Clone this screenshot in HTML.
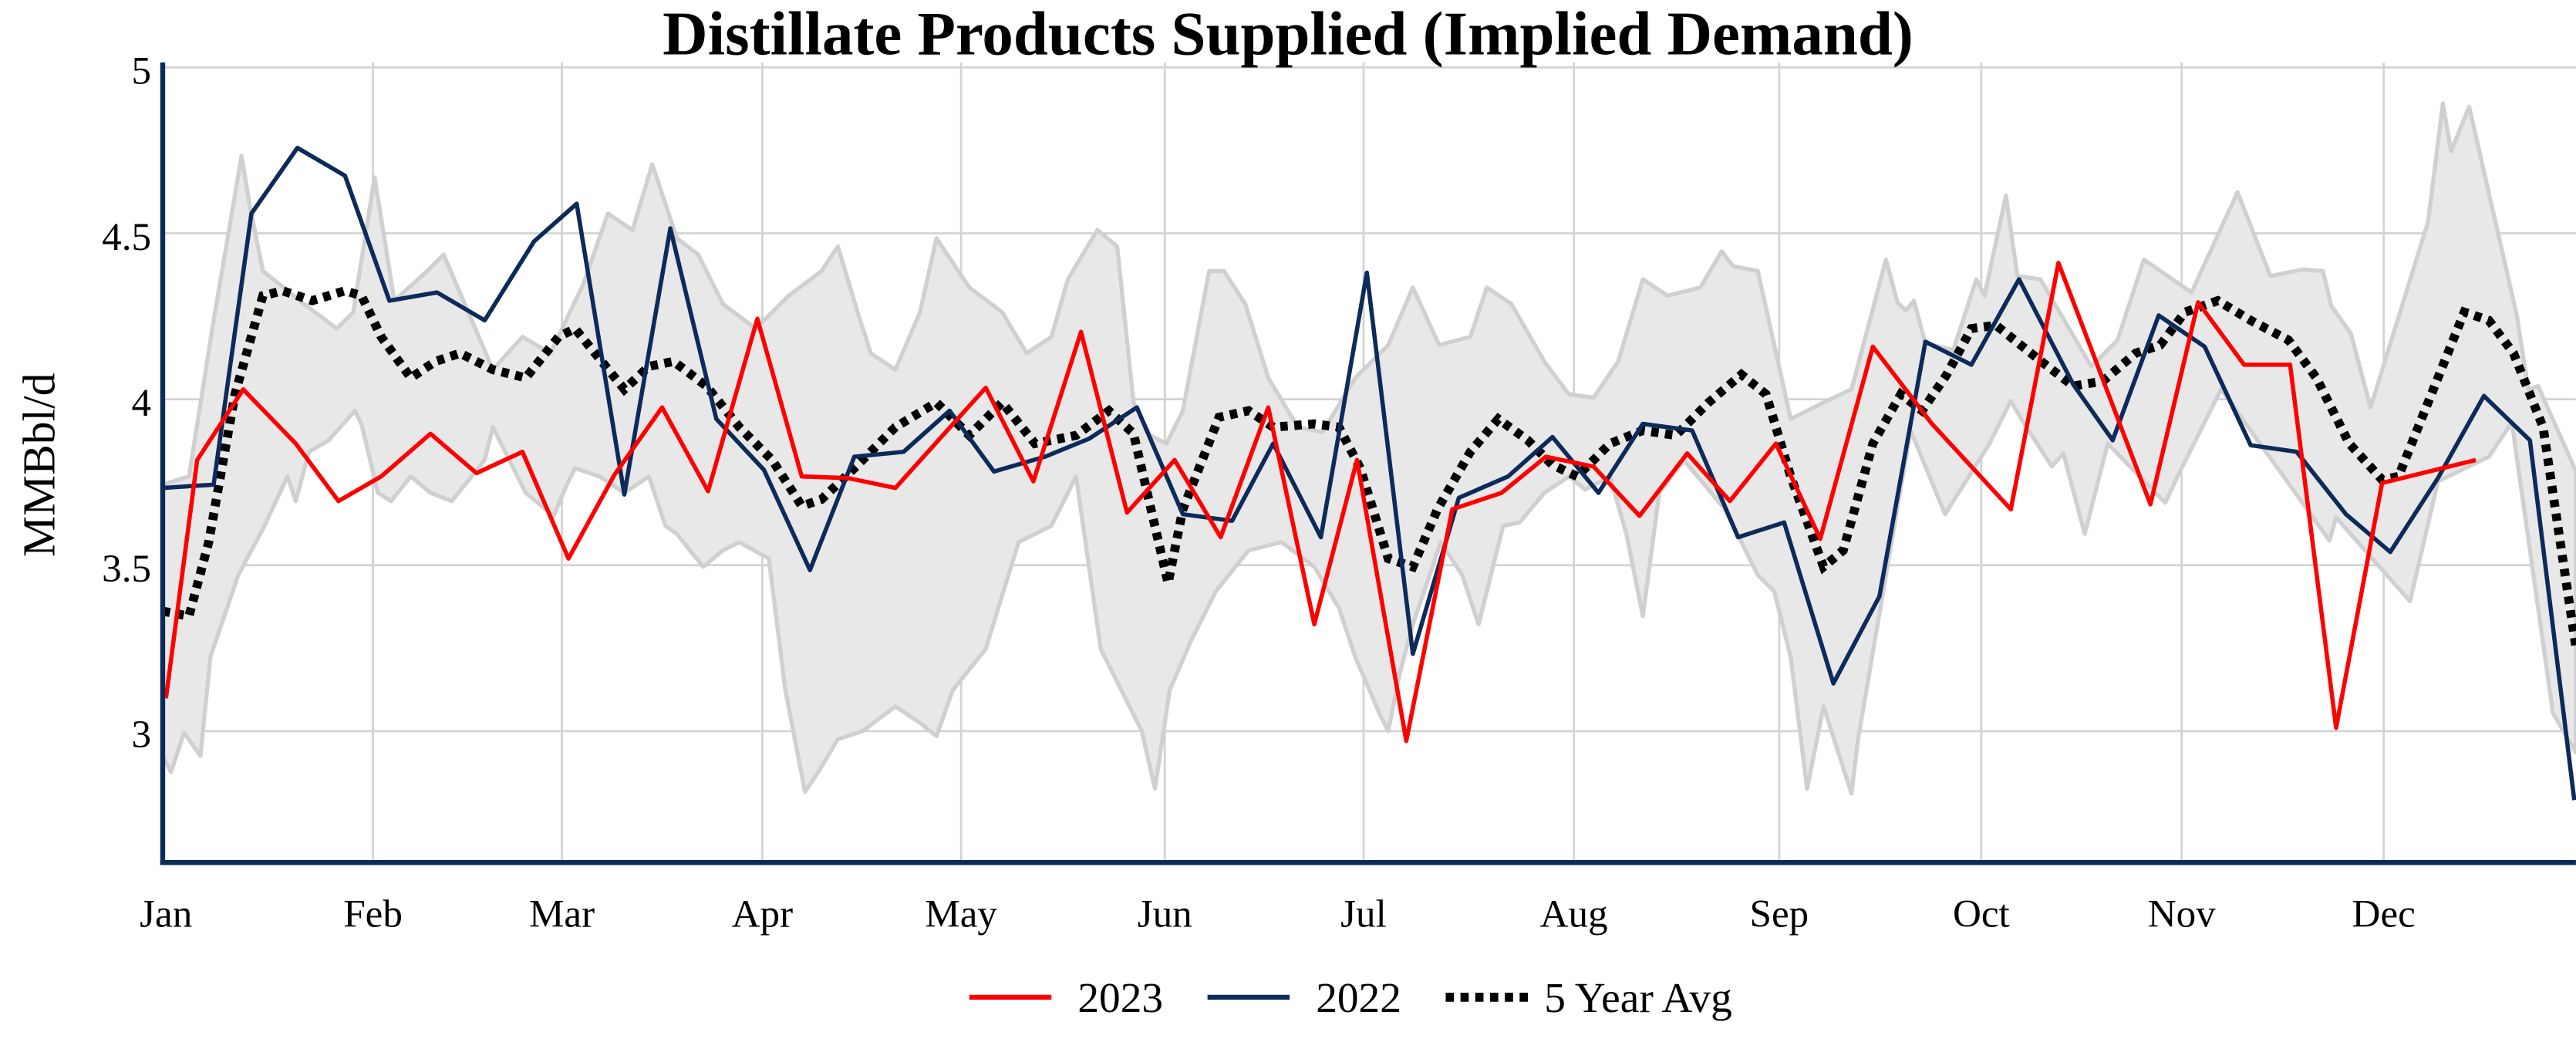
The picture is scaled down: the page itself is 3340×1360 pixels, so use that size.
<!DOCTYPE html>
<html><head><meta charset="utf-8"><style>html,body{margin:0;padding:0;background:#fff}svg{display:block}</style></head>
<body>
<svg width="3340" height="1360" viewBox="0 0 1568 638.5" xmlns="http://www.w3.org/2000/svg" font-family="'Liberation Serif', serif">
<rect width="1568" height="638.5" fill="#fff"/>
<g stroke="#d3d3d3" stroke-width="1.3">
<line x1="99" y1="41" x2="1568" y2="41"/><line x1="99" y1="142" x2="1568" y2="142"/><line x1="99" y1="243" x2="1568" y2="243"/><line x1="99" y1="344" x2="1568" y2="344"/><line x1="99" y1="445" x2="1568" y2="445"/>
<line x1="227" y1="38" x2="227" y2="525"/><line x1="342" y1="38" x2="342" y2="525"/><line x1="464" y1="38" x2="464" y2="525"/><line x1="585" y1="38" x2="585" y2="525"/><line x1="709" y1="38" x2="709" y2="525"/><line x1="830" y1="38" x2="830" y2="525"/><line x1="958" y1="38" x2="958" y2="525"/><line x1="1083" y1="38" x2="1083" y2="525"/><line x1="1206" y1="38" x2="1206" y2="525"/><line x1="1328" y1="38" x2="1328" y2="525"/><line x1="1451" y1="38" x2="1451" y2="525"/>
</g>
<polygon fill="#e8e8e8" stroke="#d0d0d0" stroke-width="2.5" stroke-linejoin="round" points="99,295 115,290 130,195 147,95 152,125 160,165 185,185 205,200 215,190 228,108 240,183 260,165 270,155 285,190 300,225 318,205 335,215 355,173 370,130 385,140 397,100 412,145 425,155 440,185 460,200 480,180 500,165 510,150 522,190 530,215 545,225 560,190 570,145 590,175 610,190 625,215 640,205 650,170 668,140 680,150 690,245 700,265 710,270 720,250 736,165 745,165 758,185 772,230 790,260 805,263 825,230 845,210 860,175 876,210 895,205 905,175 920,185 940,220 955,240 970,242 985,220 1000,170 1015,180 1035,175 1048,153 1055,162 1070,165 1080,210 1090,255 1110,245 1127,237 1148,158 1155,184 1160,189 1165,183 1172,209 1189,213 1203,170 1208,180 1221,119 1228,168 1242,170 1256,194 1273,223 1289,207 1305,158 1334,178 1362,117 1382,168 1402,164 1414,165 1419,186 1431,203 1443,248 1478,135 1487,63 1492,92 1503,65 1532,192 1539,237 1545,235 1568,287 1568,458 1554,434 1529,257 1515,278 1484,293 1467,366 1422,315 1418,329 1352,237 1325,291 1318,306 1283,270 1269,325 1256,276 1249,284 1231,256 1224,244 1211,270 1184,313 1163,262 1131,450 1127,483 1110,430 1100,480 1090,400 1080,360 1070,350 1050,310 1025,280 1010,300 1000,375 990,325 980,290 965,298 955,290 940,300 925,318 915,320 900,380 890,350 877,330 860,380 852,410 845,445 840,435 825,400 815,370 800,345 780,330 760,335 740,360 725,390 712,420 703,480 695,445 670,395 655,290 640,320 620,330 600,395 580,420 570,448 560,440 545,430 525,445 510,450 498,470 490,482 478,420 468,340 450,330 440,335 428,345 412,325 405,320 395,290 380,300 365,290 350,285 345,295 337,314 320,300 300,260 295,280 275,305 262,300 250,290 238,305 230,300 220,258 216,250 200,268 188,275 180,305 175,290 160,322 153,335 145,350 128,400 122,460 112,446 104,470 99,460"/>
<polyline fill="none" stroke="#000" stroke-width="5.5" stroke-dasharray="4.5,4" points="99,372 115,375 127,330 143,240 160,180 172,177 190,183 210,177 220,180 232,205 250,230 265,220 280,215 300,225 320,230 340,205 350,200 380,237 395,223 410,220 430,235 450,260 470,280 488,308 500,304 520,285 545,260 570,245 590,265 610,245 630,270 655,265 675,250 690,264 711,355 720,310 742,254 760,250 775,260 800,258 815,260 828,285 845,340 860,345 875,310 895,275 912,255 930,268 945,283 960,290 980,270 1000,262 1020,265 1040,245 1060,228 1075,240 1090,290 1110,345 1122,335 1140,270 1157,240 1170,250 1185,228 1200,200 1215,198 1240,218 1262,235 1280,232 1300,215 1315,210 1330,190 1350,183 1370,195 1393,207 1410,230 1430,270 1450,292 1460,290 1480,240 1500,190 1515,195 1530,215 1548,260 1568,394"/>
<polyline fill="none" stroke="#0c2a5a" stroke-width="2.6" stroke-linejoin="round" points="99,297 130,295 153,130 181,90 210,107 237,183 266,178 295,195 325,147 351,124 380,301 408,139 436,255 465,286 493,347 520,278 550,275 578,250 605,287 636,278 663,267 692,248 720,313 750,317 775,270 804,327 832,166 860,398 888,303 918,290 945,266 973,300 1000,258 1030,262 1058,327 1086,318 1116,416 1144,363 1172,208 1200,222 1229,170 1262,234 1286,268 1314,192 1342,211 1370,271 1398,275 1428,313 1455,336 1484,291 1512,241 1540,268 1567,487"/>
<polyline fill="none" stroke="#ff0000" stroke-width="2.6" stroke-linejoin="round" points="101,425 120,280 148,237 180,270 206,305 232,290 262,264 290,288 318,275 346,340 374,289 403,248 431,299 461,194 488,290 516,291 545,297 600,236 629,293 658,202 686,312 715,280 743,327 772,248 800,380 826,280 856,451 884,310 914,300 941,278 970,284 998,314 1027,276 1053,305 1081,270 1108,328 1140,211 1176,258 1224,310 1253,160 1309,307 1338,184 1366,222 1394,222 1422,443 1450,294 1507,280"/>
<line x1="99" y1="38" x2="99" y2="526.5" stroke="#0c2a5a" stroke-width="3"/>
<line x1="97.5" y1="525" x2="1568" y2="525" stroke="#0c2a5a" stroke-width="3"/>
<g font-size="24" fill="#000" text-anchor="end">
<text x="92" y="51">5</text><text x="92" y="152">4.5</text><text x="92" y="253">4</text><text x="92" y="354">3.5</text><text x="92" y="455">3</text>
</g>
<g font-size="24" fill="#000" text-anchor="middle">
<text x="101" y="564">Jan</text><text x="227" y="564">Feb</text><text x="342" y="564">Mar</text><text x="464" y="564">Apr</text><text x="585" y="564">May</text><text x="709" y="564">Jun</text><text x="830" y="564">Jul</text><text x="958" y="564">Aug</text><text x="1083" y="564">Sep</text><text x="1206" y="564">Oct</text><text x="1328" y="564">Nov</text><text x="1451" y="564">Dec</text>
</g>
<text transform="translate(33,283) rotate(-90)" font-size="28" text-anchor="middle">MMBbl/d</text>
<text x="784" y="33" font-size="38" font-weight="bold" text-anchor="middle">Distillate Products Supplied (Implied Demand)</text>
<line x1="590" y1="607" x2="640" y2="607" stroke="#ff0000" stroke-width="3"/>
<text x="656" y="616" font-size="26">2023</text>
<line x1="735" y1="607" x2="785" y2="607" stroke="#0c2a5a" stroke-width="3"/>
<text x="801" y="616" font-size="26">2022</text>
<line x1="880" y1="607" x2="930" y2="607" stroke="#000" stroke-width="5.5" stroke-dasharray="5,4"/>
<text x="940" y="616" font-size="26">5 Year Avg</text>
</svg>
</body></html>
